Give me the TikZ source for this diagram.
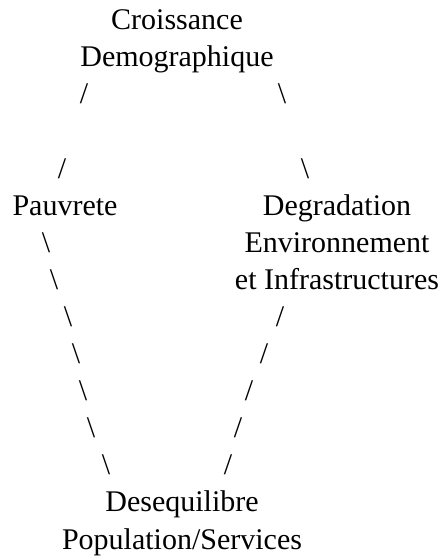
\documentclass[tikz,border=0pt]{standalone}
\usepackage{fontspec}
\setmainfont{Liberation Serif}
\usepackage{tikz}

\begin{document}
\begin{tikzpicture}[x=0.5pt, y=0.5pt, every node/.style={font=\fontsize{15}{18}\selectfont, inner sep=0pt, anchor=base}]
  \useasboundingbox (0,0) rectangle (448,559);
  % causes et effets
  \node (cr1) at (177,529.3) {Croissance};
  \node (cr2) at (177,492.2) {Demographique};
  \node (pv) at (65,343.8) {Pauvrete};
  \node (dg1) at (337,343.8) {Degradation};
  \node (dg2) at (337,306.7) {Environnement};
  \node (dg3) at (337,269.6) {et Infrastructures};
  \node (ds1) at (182,47.0) {Desequilibre};
  \node (ds2) at (182,9.9) {Population/Services};
  % liens du haut
  \node (cp1) at (84,455.1) {/};
  \node (cp2) at (62,380.9) {/};
  \node (cd1) at (282,455.1) {\textbackslash};
  \node (cd2) at (305,380.9) {\textbackslash};
  % liens du bas
  \foreach \x [count=\k from 6] in {46,54,68,76,83,91,106}
    \node (pd\k) at (\x,{529.3-37.1*\k}) {\textbackslash};
  \foreach \x [count=\k from 8] in {280,264,249,238,228}
    \node (dd\k) at (\x,{529.3-37.1*\k}) {/};
\end{tikzpicture}
\end{document}
